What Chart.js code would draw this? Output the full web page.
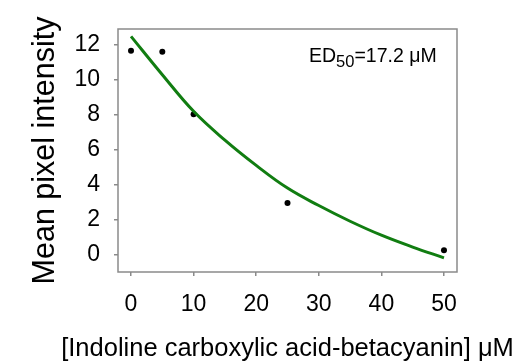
<!DOCTYPE html>
<html>
<head>
<meta charset="utf-8">
<script src="https://cdn.jsdelivr.net/npm/chart.js@4"></script>
<style>
html, body { margin: 0; padding: 0; background: #fff; }
</style>
</head>
<body>
<canvas id="doseChart" width="520" height="361"></canvas>
<script>
// measured points
const concX = [0, 5, 10, 25, 50];
const intensity = [11.67, 11.62, 8.03, 2.94, 0.23];

// fitted curve
const fitX = [0, 5, 10, 15, 20, 25, 30, 35, 40, 45, 50];
const fitY = [12.5, 10.3, 8.2, 6.55, 5.1, 3.8, 2.8, 1.9, 1.1, 0.42, -0.2];

const xTicks = [0, 10, 20, 30, 40, 50];
const yTicks = [0, 2, 4, 6, 8, 10, 12];
const xTitle = '[Indoline carboxylic acid-betacyanin] μM';

const FONT = '"Liberation Sans", Arial, sans-serif';
const FRAME = '#8a8a8a';

// box around the plot, x title (too wide for the scale box) and the ED50 note
const framePlugin = {
  id: 'frame',
  beforeDatasetsDraw(chart) {
    const { ctx, chartArea: a } = chart;
    ctx.save();
    ctx.strokeStyle = FRAME;
    ctx.lineWidth = 1.5;
    ctx.strokeRect(a.left, a.top, a.right - a.left, a.bottom - a.top);
    ctx.restore();
  },
  afterDraw(chart) {
    const { ctx, chartArea: a } = chart;
    ctx.save();
    ctx.fillStyle = '#000';

    ctx.font = '25.5px ' + FONT;
    ctx.textAlign = 'center';
    ctx.textBaseline = 'middle';
    ctx.fillText(xTitle, (a.left + a.right) / 2, 349);

    ctx.textAlign = 'left';
    ctx.textBaseline = 'alphabetic';
    let x = a.left + 191;
    const y = a.top + 33;
    ctx.font = '19.5px ' + FONT;
    ctx.fillText('ED', x, y);
    x += ctx.measureText('ED').width;
    ctx.font = '16.5px ' + FONT;
    ctx.fillText('50', x, y + 5);
    x += ctx.measureText('50').width;
    ctx.font = '19.5px ' + FONT;
    ctx.fillText('=17.2 μM', x, y);
    ctx.restore();
  }
};

const config = {
  type: 'scatter',
  data: {
    datasets: [{
      label: 'fit',
      data: fitX.map((v, i) => ({ x: v, y: fitY[i] })),
      showLine: true,
      borderColor: '#117d11',
      borderWidth: 3,
      pointRadius: 0,
      tension: 0.4,
      fill: false
    }, {
      label: 'data',
      data: concX.map((v, i) => ({ x: v, y: intensity[i] })),
      backgroundColor: '#000',
      borderWidth: 0,
      pointRadius: 3
    }]
  },
  plugins: [framePlugin],
  options: {
    responsive: false,
    devicePixelRatio: 1,
    animation: false,
    layout: { padding: { top: 29, right: 63, left: 0, bottom: 0 } },
    plugins: {
      legend: { display: false },
      tooltip: { enabled: false }
    },
    scales: {
      x: {
        type: 'linear',
        min: -2.08,
        max: 52.08,
        afterBuildTicks: s => { s.ticks = xTicks.map(v => ({ value: v })); },
        afterFit: s => { s.height = 89; },
        border: { display: false },
        grid: { drawOnChartArea: false, drawTicks: true, tickLength: 4, color: FRAME, lineWidth: 1.5 },
        ticks: { color: '#000', font: { family: FONT, size: 23 }, padding: 15, maxRotation: 0 },
        title: { display: false }
      },
      y: {
        type: 'linear',
        min: -1.01,
        max: 12.92,
        afterBuildTicks: s => { s.ticks = yTicks.map(v => ({ value: v })); },
        afterFit: s => { s.width = 118; },
        border: { display: false },
        grid: { drawOnChartArea: false, drawTicks: true, tickLength: 4, color: FRAME, lineWidth: 1.5 },
        ticks: { color: '#000', font: { family: FONT, size: 23 }, padding: 14 },
        title: {
          display: true,
          text: 'Mean pixel intensity',
          color: '#000',
          font: { family: FONT, size: 30.5 },
          padding: { top: 27, bottom: 0 }
        }
      }
    }
  }
};

var doseChart = new Chart(document.getElementById('doseChart'), config);
</script>
</body>
</html>
